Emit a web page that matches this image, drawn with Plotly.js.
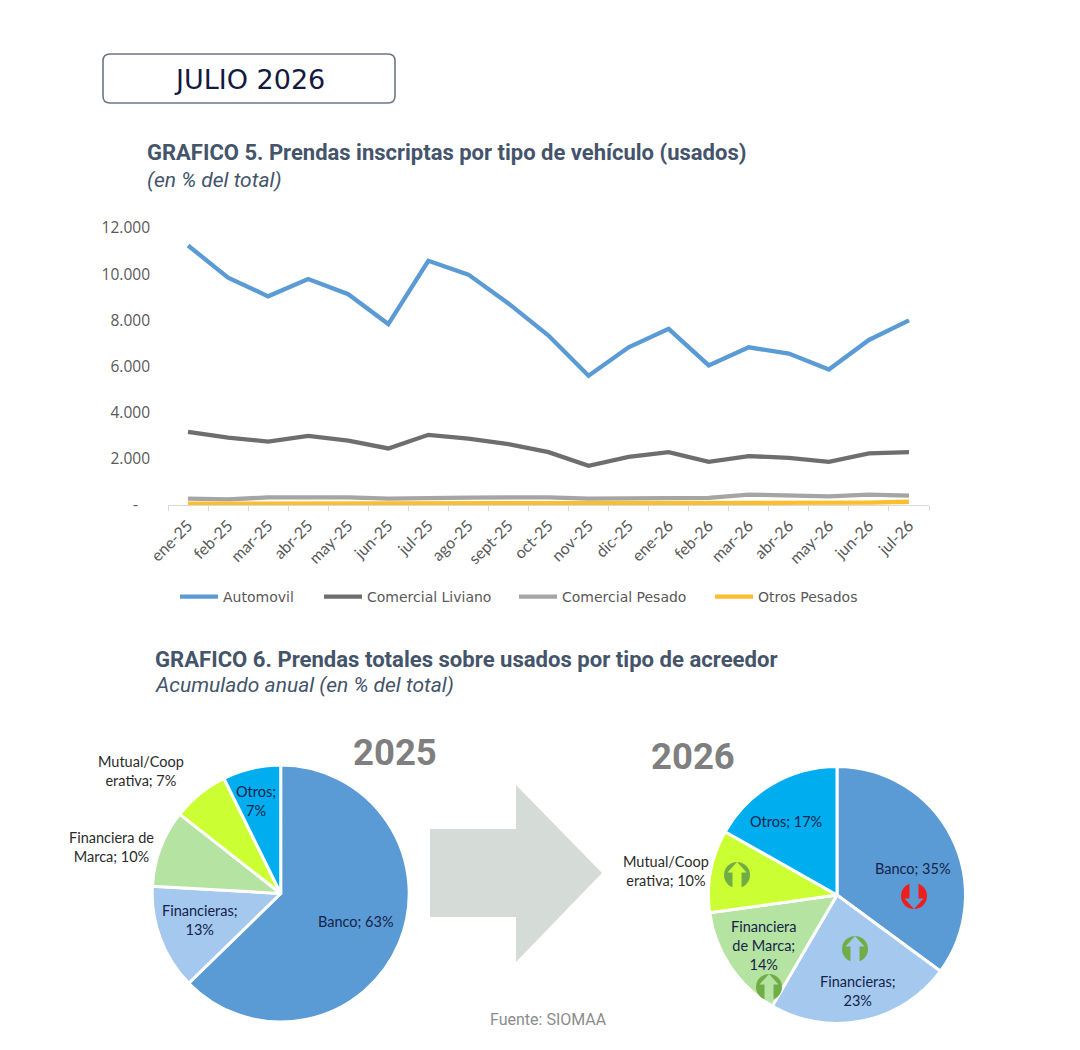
<!DOCTYPE html>
<html>
<head>
<meta charset="utf-8">
<script src="https://cdn.plot.ly/plotly-3.0.1.min.js"></script>
<style>html,body{margin:0;padding:0;background:#fff}</style>
</head>
<body>
<div id="chart" style="width:1080px;height:1050px"></div>
<script>
const months = ['ene-25','feb-25','mar-25','abr-25','may-25','jun-25','jul-25','ago-25','sept-25','oct-25','nov-25','dic-25','ene-26','feb-26','mar-26','abr-26','may-26','jun-26','jul-26'];
const automovil = [11240,9850,9040,9790,9130,7840,10580,9980,8730,7340,5600,6830,7630,6050,6830,6560,5870,7150,8000];
const comercialLiviano = [3170,2920,2750,2990,2790,2450,3040,2880,2640,2290,1700,2080,2290,1870,2120,2040,1870,2240,2290];
const comercialPesado = [280,240,330,330,330,280,280,320,330,330,280,280,310,310,450,410,370,450,410];
const otrosPesados = [60,60,100,70,70,100,100,100,100,70,70,90,100,70,90,90,90,100,140];
const yTickVals = [0,2000,4000,6000,8000,10000,12000];
const yTickText = ['-\u00a0\u00a0\u00a0','2.000','4.000','6.000','8.000','10.000','12.000'];

const acreedores = ['Banco','Financieras','Financiera de Marca','Mutual/Cooperativa','Otros'];
const pie2025 = [62.7,13.2,9.7,7.1,7.3];
const pie2026 = [35.1,23.3,14.4,10.4,16.8];
const pieColors = ['#5b9bd5','#a4c8ee','#b5e3a1','#ccff33','#00aeef'];
const labelTexts2025 = ['Banco; 63%','Financieras;<br>13%','Financiera de<br>Marca; 10%','Mutual/Coop<br>erativa; 7%','Otros;<br>7%'];
const labelTexts2026 = ['Banco; 35%','Financieras;<br>23%','Financiera<br>de Marca;<br>14%','Mutual/Coop<br>erativa; 10%','Otros; 17%'];

const W = 1080, H = 1050;
const X = p => p / W, Y = p => 1 - p / H;
const titleColor = '#44546a';
const lineFont = 'Lato, "Open Sans", sans-serif';

function lineTrace(name, y, color, legend) {
  return {type:'scatter', mode:'lines', name, x:months, y, xaxis:'x', yaxis:'y', legend,
    line:{color, width:4.3, shape:'linear'}, cliponaxis:false, hoverinfo:'x+y'};
}
function pieTrace(values, cx, cy, r) {
  return {type:'pie', values, labels:acreedores, sort:false, direction:'clockwise', rotation:0,
    marker:{colors:pieColors, line:{color:'#ffffff', width:3}}, textinfo:'none', showlegend:false,
    domain:{x:[X(cx-r), X(cx+r)], y:[Y(cy+r), Y(cy-r)]}};
}
const data = [
  lineTrace('Automovil', automovil, '#5b9bd5', 'legend'),
  lineTrace('Comercial Liviano', comercialLiviano, '#6e6e6e', 'legend2'),
  lineTrace('Comercial Pesado', comercialPesado, '#a5a5a5', 'legend3'),
  lineTrace('Otros Pesados', otrosPesados, '#fbbe2c', 'legend4'),
  pieTrace(pie2025, 280.7, 893.5, 128.5),
  pieTrace(pie2026, 837, 895, 128.5)
];

function legendAt(px) {
  return {orientation:'v', x:X(px), xanchor:'left', y:Y(597), yanchor:'middle', itemwidth:38,
    bgcolor:'rgba(0,0,0,0)', borderwidth:0, tracegroupgap:0,
    font:{family:'"DejaVu Sans", sans-serif', size:14, color:'#595959'}};
}
function txt(text, px, py, size, color, extra) {
  return Object.assign({text, x:X(px), y:Y(py), xref:'paper', yref:'paper', showarrow:false,
    xanchor:'left', yanchor:'middle', align:'left',
    font:{family:'Roboto, sans-serif', size, color}}, extra||{});
}
const pieFont = 'Lato, "Noto Sans", sans-serif';
function pieLab(text, px, py, color) {
  return {text, x:X(px), y:Y(py), xref:'paper', yref:'paper', showarrow:false, xanchor:'center', yanchor:'middle', align:'center',
    font:{family:pieFont, size:14.5, color:color}};
}
const navy = '#14234a', dark = '#2b2b2b';
const annotations = [
  txt('JULIO 2026', 249, 79.5, 27, '#14193f', {xanchor:'center', font:{family:'"DejaVu Sans", sans-serif', size:27, color:'#14193f'}}),
  txt('<b>GRAFICO 5. Prendas inscriptas por tipo de vehículo (usados)</b>', 145, 153, 22, titleColor),
  txt('<i>(en % del total)</i>', 145, 180, 21, titleColor),
  txt('<b>GRAFICO 6. Prendas totales sobre usados por tipo de acreedor</b>', 153, 659, 22.1, titleColor),
  txt('<i>Acumulado anual (en % del total)</i>', 153, 685, 21, titleColor),
  txt('<b>2025</b>', 395, 752, 36.5, '#7f7f7f', {xanchor:'center'}),
  txt('<b>2026</b>', 692.5, 756, 36.5, '#7f7f7f', {xanchor:'center'}),
  txt('Fuente: SIOMAA', 548, 1019, 16, '#8c8c8c', {xanchor:'center'}),
  pieLab(labelTexts2025[0], 356, 921, navy),
  pieLab(labelTexts2025[1], 200, 920, navy),
  pieLab(labelTexts2025[2], 111, 847, dark),
  pieLab(labelTexts2025[3], 141, 771, dark),
  pieLab(labelTexts2025[4], 256, 801, navy),
  pieLab(labelTexts2026[0], 913, 868, navy),
  pieLab(labelTexts2026[1], 858, 991, navy),
  pieLab(labelTexts2026[2], 763, 945, navy),
  pieLab(labelTexts2026[3], 666, 871, dark),
  pieLab(labelTexts2026[4], 786, 821, navy)
];

function poly(points, fill) {
  const path = points.map((p,i)=>(i?'L':'M')+X(p[0])+','+Y(p[1])).join(' ')+' Z';
  return {type:'path', xref:'paper', yref:'paper', path, fillcolor:fill, line:{width:0}};
}
function badge(cx, cy, r, circleColor, arrowColor, up) {
  const s = up ? 1 : -1;
  return [
    {type:'circle', xref:'paper', yref:'paper', x0:X(cx-r), x1:X(cx+r), y0:Y(cy+r), y1:Y(cy-r), fillcolor:circleColor, line:{width:0}},
    poly([[cx,cy-s*r],[cx+9.5,cy-s*2.5],[cx+4.5,cy-s*2.5],[cx+4.5,cy+s*r],[cx-4.5,cy+s*r],[cx-4.5,cy-s*2.5],[cx-9.5,cy-s*2.5]], arrowColor)
  ];
}
const bx0=103,bx1=395,by0=54,by1=103,br=7;
const boxPath = `M${X(bx0+br)},${Y(by0)} L${X(bx1-br)},${Y(by0)} Q${X(bx1)},${Y(by0)} ${X(bx1)},${Y(by0+br)} L${X(bx1)},${Y(by1-br)} Q${X(bx1)},${Y(by1)} ${X(bx1-br)},${Y(by1)} L${X(bx0+br)},${Y(by1)} Q${X(bx0)},${Y(by1)} ${X(bx0)},${Y(by1-br)} L${X(bx0)},${Y(by0+br)} Q${X(bx0)},${Y(by0)} ${X(bx0+br)},${Y(by0)} Z`;
const shapes = [
  {type:'path', xref:'paper', yref:'paper', path:boxPath, fillcolor:'#ffffff', line:{color:'#6b7785', width:1.6}},
  poly([[430,829],[516,829],[516,785],[602,873],[516,962],[516,917],[430,917]], '#d5dcd7'),
  ...badge(737,875,13,'#70ad47',pieColors[3],true),
  ...badge(855,949,13,'#70ad47',pieColors[1],true),
  ...badge(769,987,13,'#70ad47',pieColors[2],true),
  ...badge(914,896,13,'#f01d1d',pieColors[0],false)
];

const layout = {
  width:W, height:H, autosize:false, margin:{l:0,r:0,t:0,b:0,pad:0},
  paper_bgcolor:'#ffffff', plot_bgcolor:'#ffffff',
  xaxis:{domain:[X(168), X(929)], type:'category', categoryorder:'array', categoryarray:months, range:[-0.5,18.5], anchor:'y',
    tickson:'boundaries', ticks:'outside', ticklen:5, tickcolor:'#d9d9d9', tickwidth:1, showline:true, linecolor:'#d9d9d9', linewidth:1,
    showgrid:false, zeroline:false, tickangle:-45, tickmode:'array', tickvals:months, ticktext:months,
    ticklabelstandoff:4,
    tickfont:{family:lineFont, size:16, color:'#595959'}, automargin:false},
  yaxis:{domain:[Y(505), Y(228)], range:[0,12000], anchor:'x', tickmode:'array', tickvals:yTickVals, ticktext:yTickText,
    showgrid:false, zeroline:false, showline:false, ticks:'', ticklabelstandoff:17,
    tickfont:{family:'"Open Sans", sans-serif', size:15.5, color:'#595959'}, automargin:false},
  legend:legendAt(175), legend2:legendAt(319), legend3:legendAt(514), legend4:legendAt(710),
  annotations, shapes, hovermode:false
};
Plotly.newPlot('chart', data, layout, {displayModeBar:false, staticPlot:true});
</script>
</body>
</html>
